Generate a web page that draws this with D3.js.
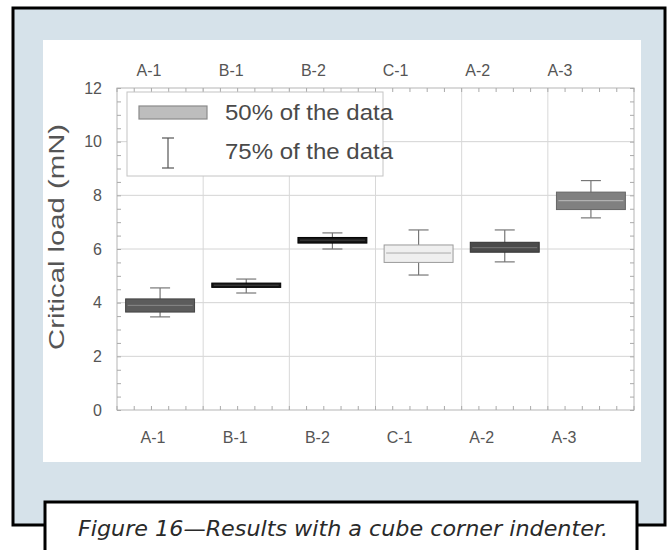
<!DOCTYPE html>
<html>
<head>
<meta charset="utf-8">
<script src="https://cdn.jsdelivr.net/npm/d3@7"></script>
<style>
  html, body { margin: 0; padding: 0; background: #ffffff; }
  svg { display: block; }
</style>
</head>
<body>
<svg id="chart" width="670" height="550"></svg>
<script>
// ---- data ----
const categories = ["A-1", "B-1", "B-2", "C-1", "A-2", "A-3"];
const whiskerLow  = [3.47, 4.36, 6.00, 5.03, 5.52, 7.16];
const boxLow      = [3.65, 4.57, 6.22, 5.50, 5.88, 7.47];
const median      = [3.90, 4.65, 6.33, 5.85, 6.05, 7.80];
const boxHigh     = [4.14, 4.73, 6.43, 6.15, 6.25, 8.12];
const whiskerHigh = [4.55, 4.88, 6.60, 6.71, 6.71, 8.55];
const yTicks = [0, 2, 4, 6, 8, 10, 12];
const legendLabels = ["50% of the data", "75% of the data"];
const yTitle = "Critical load (mN)";
const caption = "Figure 16\u2014Results with a cube corner indenter.";

// ---- styles ----
const boxFill   = ["#5c5c5c", "#151515", "#151515", "#efefef", "#4a4a4a", "#808080"];
const boxStroke = ["#444", "#000", "#000", "#9a9a9a", "#333", "#666"];
const medColor  = ["#8a8a8a", "#444", "#444", "#aaaaaa", "#777", "#bdbdbd"];
const textColor = "#555";
const font = "'Liberation Sans', Arial, Helvetica, sans-serif";

const svg = d3.select("#chart");

// outer light-blue panel with black frame
svg.append("rect").attr("x", 13).attr("y", 8).attr("width", 652).attr("height", 517)
  .attr("fill", "#d6e2ea").attr("stroke", "#000").attr("stroke-width", 3);
// white chart panel
svg.append("rect").attr("x", 43).attr("y", 40).attr("width", 598).attr("height", 422)
  .attr("fill", "#ffffff");

// caption box
svg.append("rect").attr("x", 45).attr("y", 502).attr("width", 592).attr("height", 60)
  .attr("fill", "#ffffff").attr("stroke", "#000").attr("stroke-width", 3);
svg.append("text").attr("x", 343).attr("y", 536)
  .attr("text-anchor", "middle")
  .attr("font-family", "'DejaVu Sans', sans-serif").attr("font-style", "italic")
  .attr("font-weight", 300)
  .attr("font-size", 21).attr("fill", "#2a2a2a")
  .attr("textLength", 530).attr("lengthAdjust", "spacingAndGlyphs")
  .text(caption);

// ---- plot area ----
const pLeft = 117, pRight = 634, pTop = 88, pBottom = 410;

const x = d3.scaleBand().domain(categories).range([pLeft, pRight])
  .paddingInner(0.2).paddingOuter(0.1);
const labelX = d3.scalePoint().domain(categories).range([149, 560]);
const y = d3.scaleLinear().domain([0, 12]).range([pBottom, pTop]);

const g = svg.append("g");

// horizontal gridlines
g.selectAll(".hgrid").data(yTicks.slice(1, -1)).join("line")
  .attr("x1", pLeft).attr("x2", pRight)
  .attr("y1", d => y(d)).attr("y2", d => y(d))
  .attr("stroke", "#d4d4d4").attr("stroke-width", 1);

// vertical gridlines at band boundaries
const step = x.step();
const bounds = d3.range(1, categories.length).map(i => pLeft + i * step);
g.selectAll(".vgrid").data(bounds).join("line")
  .attr("x1", d => d).attr("x2", d => d)
  .attr("y1", pTop).attr("y2", pBottom)
  .attr("stroke", "#d8d8d8").attr("stroke-width", 1);

// frame
g.append("rect").attr("x", pLeft).attr("y", pTop)
  .attr("width", pRight - pLeft).attr("height", pBottom - pTop)
  .attr("fill", "none").attr("stroke", "#b5b5b5").attr("stroke-width", 1);

// y axis (left/right) with minor ticks pointing inward
const yAxis = d3.axisLeft(y).tickValues(d3.range(0, 12.01, 0.5))
  .tickSize(-4).tickFormat("");
const ya = g.append("g").attr("transform", `translate(${pLeft},0)`).call(yAxis);
ya.select(".domain").remove();
ya.selectAll("line").attr("stroke", "#aaa");
const yAxisR = d3.axisRight(y).tickValues(d3.range(0, 12.01, 0.5))
  .tickSize(-4).tickFormat("");
const yr = g.append("g").attr("transform", `translate(${pRight},0)`).call(yAxisR);
yr.select(".domain").remove();
yr.selectAll("line").attr("stroke", "#aaa");

// y tick labels
g.selectAll(".ylab").data(yTicks).join("text")
  .attr("x", 102).attr("y", d => y(d)).attr("dy", "0.36em")
  .attr("text-anchor", "end").attr("font-family", font)
  .attr("font-size", 16).attr("fill", textColor)
  .text(d => d);

// top & bottom minor ticks
const xMinor = d3.range(0, categories.length * 5 + 1).map(i => pLeft + i * step / 5);
g.selectAll(".tt").data(xMinor).join("line")
  .attr("x1", d => d).attr("x2", d => d)
  .attr("y1", pTop).attr("y2", pTop + 4).attr("stroke", "#aaa");
g.selectAll(".bt").data(xMinor).join("line")
  .attr("x1", d => d).attr("x2", d => d)
  .attr("y1", pBottom).attr("y2", pBottom - 4).attr("stroke", "#aaa");

// y title
svg.append("text")
  .attr("transform", `translate(64,237) rotate(-90)`)
  .attr("text-anchor", "middle").attr("font-family", font)
  .attr("font-size", 22).attr("fill", textColor)
  .attr("textLength", 226).attr("lengthAdjust", "spacingAndGlyphs")
  .text(yTitle);

// category labels top & bottom
g.selectAll(".toplab").data(categories).join("text")
  .attr("x", d => labelX(d)).attr("y", 76)
  .attr("text-anchor", "middle").attr("font-family", font)
  .attr("font-size", 16).attr("fill", textColor).text(d => d);
g.selectAll(".botlab").data(categories).join("text")
  .attr("x", d => labelX(d) + 4).attr("y", 443)
  .attr("text-anchor", "middle").attr("font-family", font)
  .attr("font-size", 16).attr("fill", textColor).text(d => d);

// ---- boxes ----
const rows = categories.map((c, i) => ({
  c, i, lo: whiskerLow[i], q1: boxLow[i], med: median[i], q3: boxHigh[i], hi: whiskerHigh[i]
}));
const capW = 20;
const cx = d => x(d.c) + x.bandwidth() / 2;
const bg = g.selectAll(".box").data(rows).join("g");
bg.append("line")
  .attr("x1", cx).attr("x2", cx)
  .attr("y1", d => y(d.hi)).attr("y2", d => y(d.lo))
  .attr("stroke", "#777").attr("stroke-width", 1.2);
bg.append("line")
  .attr("x1", d => cx(d) - capW / 2).attr("x2", d => cx(d) + capW / 2)
  .attr("y1", d => y(d.hi)).attr("y2", d => y(d.hi))
  .attr("stroke", "#777").attr("stroke-width", 1.2);
bg.append("line")
  .attr("x1", d => cx(d) - capW / 2).attr("x2", d => cx(d) + capW / 2)
  .attr("y1", d => y(d.lo)).attr("y2", d => y(d.lo))
  .attr("stroke", "#777").attr("stroke-width", 1.2);
bg.append("rect")
  .attr("x", d => x(d.c)).attr("width", x.bandwidth())
  .attr("y", d => y(d.q3)).attr("height", d => y(d.q1) - y(d.q3))
  .attr("fill", d => boxFill[d.i]).attr("stroke", d => boxStroke[d.i]).attr("stroke-width", 1);
bg.append("line")
  .attr("x1", d => x(d.c) + 2).attr("x2", d => x(d.c) + x.bandwidth() - 2)
  .attr("y1", d => y(d.med)).attr("y2", d => y(d.med))
  .attr("stroke", d => medColor[d.i]).attr("stroke-width", 1);

// ---- legend ----
const lg = svg.append("g");
lg.append("rect").attr("x", 127).attr("y", 92).attr("width", 256).attr("height", 84)
  .attr("fill", "#ffffff").attr("stroke", "#c4c4c4").attr("stroke-width", 1);
lg.append("rect").attr("x", 139).attr("y", 106).attr("width", 68).attr("height", 13)
  .attr("fill", "#bdbdbd").attr("stroke", "#8a8a8a").attr("stroke-width", 1.2);
const ex = 168;
lg.append("line").attr("x1", ex).attr("x2", ex).attr("y1", 138).attr("y2", 168)
  .attr("stroke", "#555").attr("stroke-width", 1.2);
lg.append("line").attr("x1", ex - 6).attr("x2", ex + 6).attr("y1", 138).attr("y2", 138)
  .attr("stroke", "#555").attr("stroke-width", 1.2);
lg.append("line").attr("x1", ex - 6).attr("x2", ex + 6).attr("y1", 168).attr("y2", 168)
  .attr("stroke", "#555").attr("stroke-width", 1.2);
lg.selectAll(".lt").data(legendLabels).join("text")
  .attr("x", 225).attr("y", (d, i) => 120 + i * 39)
  .attr("font-family", font).attr("font-size", 22).attr("fill", "#4a4a4a")
  .attr("textLength", 168).attr("lengthAdjust", "spacingAndGlyphs")
  .text(d => d);
</script>
</body>
</html>
